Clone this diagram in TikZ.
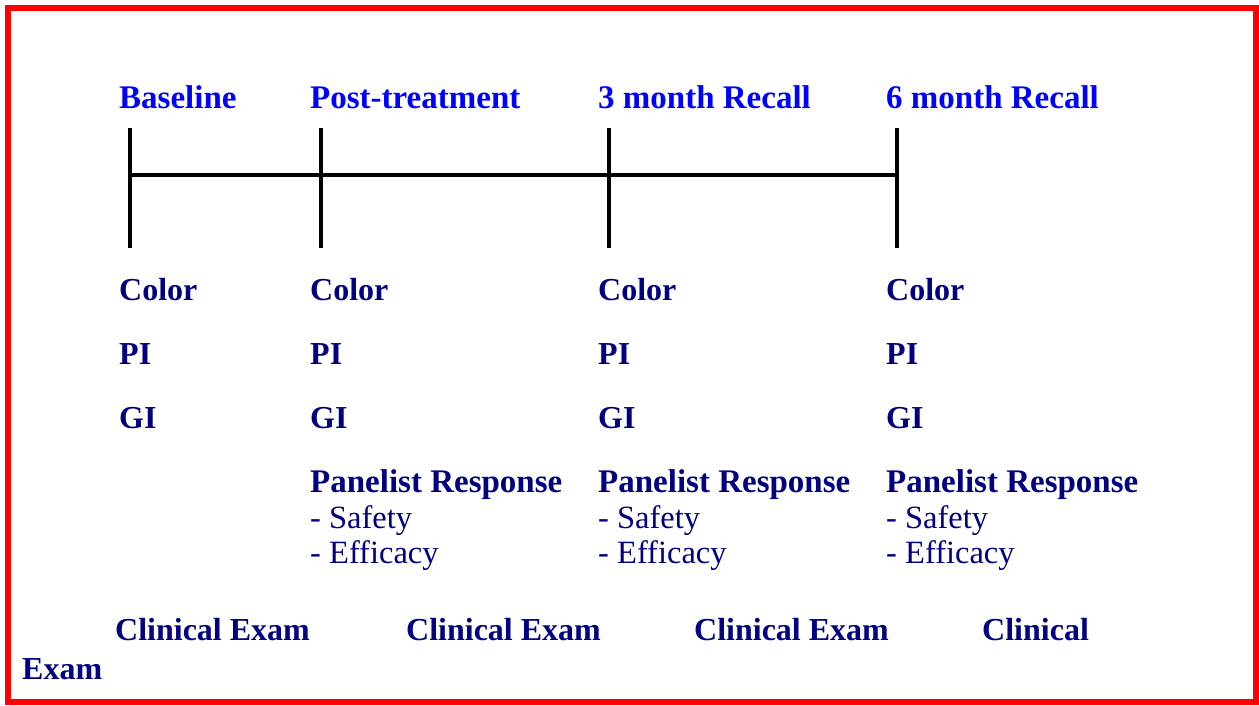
\documentclass[tikz,border=0pt]{standalone}
\usepackage{fontspec}
\setmainfont{Liberation Serif}
\definecolor{headblue}{RGB}{0,0,255}
\definecolor{labelnavy}{RGB}{0,0,128}

\begin{document}
\begin{tikzpicture}[x=1pt,y=-1pt]
        \tikzstyle{every node}=[font=\fontsize{32}{40}\selectfont\bfseries, inner sep=0pt, anchor=base west, text=labelnavy]
        \tikzstyle{stage}=[font=\fontsize{33}{40}\selectfont\bfseries, text=headblue]
        \tikzstyle{panel}=[font=\fontsize{33}{40}\selectfont\bfseries]
        \tikzstyle{plain}=[font=\fontsize{32.5}{40}\selectfont]
        \tikzstyle{tick}=[line width=4.5pt]
        \useasboundingbox (0,0) rectangle (1259,705);
        \draw[red, line width=6pt] (8,8) rectangle (1256,702);

        % stage headings
        \node[stage] (baseline) at (119,108) {Baseline};
        \node[stage] (posttreat) at (310,108) {Post-treatment};
        \node[stage] (threemonth) at (598,108) {3 month Recall};
        \node[stage] (sixmonth) at (886,108) {6 month Recall};

        % timeline
        \coordinate (tickatop) at (130,128);
        \coordinate (tickabot) at (130,248);
        \coordinate (tickbtop) at (321,128);
        \coordinate (tickbbot) at (321,248);
        \coordinate (tickctop) at (609,128);
        \coordinate (tickcbot) at (609,248);
        \coordinate (tickdtop) at (897,128);
        \coordinate (tickdbot) at (897,248);
        \coordinate (axisstart) at (130,175);
        \coordinate (axisend) at (897,175);
        \draw[tick] (tickatop) -- (tickabot);
        \draw[tick] (tickbtop) -- (tickbbot);
        \draw[tick] (tickctop) -- (tickcbot);
        \draw[tick] (tickdtop) -- (tickdbot);
        \draw[tick] (axisstart) -- (axisend);

        % measures
        \node (colora) at (119,300) {Color};
        \node (pia) at (119,364) {PI};
        \node (gia) at (119,428) {GI};

        \node (colorb) at (310,300) {Color};
        \node (pib) at (310,364) {PI};
        \node (gib) at (310,428) {GI};
        \node[panel] (panelb) at (310,492) {Panelist Response};
        \node[plain] (safetyb) at (310,528) {- Safety};
        \node[plain] (efficacyb) at (310,563) {- Efficacy};

        \node (colorc) at (598,300) {Color};
        \node (pic) at (598,364) {PI};
        \node (gic) at (598,428) {GI};
        \node[panel] (panelc) at (598,492) {Panelist Response};
        \node[plain] (safetyc) at (598,528) {- Safety};
        \node[plain] (efficacyc) at (598,563) {- Efficacy};

        \node (colord) at (886,300) {Color};
        \node (pid) at (886,364) {PI};
        \node (gid) at (886,428) {GI};
        \node[panel] (paneld) at (886,492) {Panelist Response};
        \node[plain] (safetyd) at (886,528) {- Safety};
        \node[plain] (efficacyd) at (886,563) {- Efficacy};

        % exams
        \node (exama) at (115,640) {Clinical Exam};
        \node (examb) at (406,640) {Clinical Exam};
        \node (examc) at (694,640) {Clinical Exam};
        \node (examd) at (982,640) {Clinical};
        \node (examdwrap) at (22,679) {Exam};
    \end{tikzpicture}
\end{document}
